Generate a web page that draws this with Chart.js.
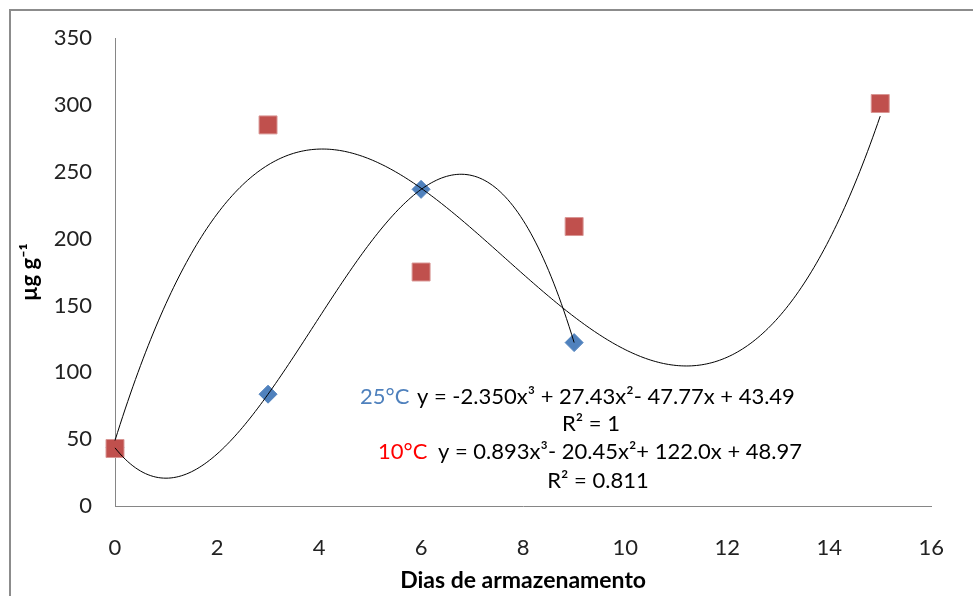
<!DOCTYPE html>
<html>
<head>
<meta charset="utf-8">
<script src="https://cdn.jsdelivr.net/npm/chart.js@4"></script>
<style>
  html, body { margin: 0; padding: 0; background: #fff; }
  #wrap { width: 973px; height: 596px; position: relative; }
</style>
</head>
<body>
<div id="wrap"><canvas id="myChart"></canvas></div>
<script>
// data
const days25 = [0, 3, 6, 9];
const vals25 = [43.5, 83.6, 236.8, 122.2];
const days10 = [0, 3, 6, 9, 15];
const vals10 = [43, 285, 175, 209, 301];
// trendline coefficients (a3, a2, a1, a0) as printed on the chart
const coef25 = [-2.350, 27.43, -47.77, 43.49];
const coef10 = [0.893, -20.45, 122.0, 48.97];
const xTicks = [0, 2, 4, 6, 8, 10, 12, 14, 16];
const yTicks = [0, 50, 100, 150, 200, 250, 300, 350];

function trend(c, x0, x1) {
    const pts = [];
    for (let i = 0; i <= (x1 - x0) * 20; i++) {
        const x = x0 + i / 20;
        pts.push({ x: x, y: c[0] * x * x * x + c[1] * x * x + c[2] * x + c[3] });
    }
    return pts;
}

const toXY = (xs, ys) => xs.map((x, i) => ({ x: x, y: ys[i] }));

const FONT = 'Lato, "Open Sans", sans-serif';

const frame = {
    id: 'frame',
    beforeDraw(chart) {
        const c = chart.ctx;
        c.save();
        c.strokeStyle = '#8c8c8c';
        c.lineWidth = 2;
        c.beginPath();
        c.moveTo(10, 596);
        c.lineTo(10, 10);
        c.lineTo(973, 10);
        c.stroke();
        c.restore();
    }
};

const labels = {
    id: 'labels',
    afterDraw(chart) {
        const c = chart.ctx;
        c.save();
        c.font = '22px ' + FONT;
        c.textBaseline = 'middle';
        c.textAlign = 'left';
        c.fillStyle = '#4f81bd';
        c.fillText('25°C', 360, 397);
        c.fillStyle = '#000';
        c.fillText('y = -2.350x³ + 27.43x²- 47.77x + 43.49', 417, 397);
        c.fillStyle = '#ff0000';
        c.fillText('10°C', 378, 452);
        c.fillStyle = '#000';
        c.fillText('y = 0.893x³- 20.45x²+ 122.0x + 48.97', 438, 452);
        c.textAlign = 'center';
        c.fillText('R² = 1', 591, 424);
        c.fillText('R² = 0.811', 598, 481);
        c.restore();
    }
};

const ctx = document.getElementById('myChart').getContext('2d');
const myChart = new Chart(ctx, {
    type: 'scatter',
    data: {
        datasets: [{
            label: '25°C trend',
            data: trend(coef25, 0, 9),
            showLine: true,
            borderColor: '#000',
            borderWidth: 1,
            pointRadius: 0,
            tension: 0,
            clip: false,
            order: 0
        }, {
            label: '10°C trend',
            data: trend(coef10, 0, 15),
            showLine: true,
            borderColor: '#000',
            borderWidth: 1,
            pointRadius: 0,
            tension: 0,
            clip: false,
            order: 0
        }, {
            label: '10°C',
            data: toXY(days10, vals10),
            pointStyle: 'rect',
            pointRadius: 12.7,
            backgroundColor: '#c0504d',
            borderColor: '#d99694',
            borderWidth: 1,
            clip: false,
            order: 1
        }, {
            label: '25°C',
            data: toXY(days25, vals25),
            pointStyle: 'rectRot',
            pointRadius: 9,
            backgroundColor: '#4f81bd',
            borderColor: '#4f81bd',
            borderWidth: 1,
            clip: false,
            order: 2
        }]
    },
    options: {
        responsive: true,
        maintainAspectRatio: false,
        animation: false,
        layout: { padding: { left: 17, top: 38, right: 38, bottom: 2 } },
        plugins: {
            legend: { display: false },
            tooltip: { enabled: false }
        },
        scales: {
            x: {
                type: 'linear',
                min: 0,
                max: 16,
                afterBuildTicks: s => { s.ticks = xTicks.map(v => ({ value: v })); },
                afterFit: s => { s.height = 88; },
                grid: { display: false, drawTicks: false },
                border: { color: '#868686', width: 1 },
                ticks: { padding: 29, color: '#222', font: { family: FONT, size: 22 } },
                title: {
                    display: true,
                    text: 'Dias de armazenamento',
                    color: '#000',
                    padding: 0,
                    font: { family: FONT, size: 23, weight: 'bold' }
                }
            },
            y: {
                min: 0,
                max: 350,
                afterBuildTicks: s => { s.ticks = yTicks.map(v => ({ value: v })); },
                afterFit: s => { s.width = 98; },
                grid: { display: false, drawTicks: false },
                border: { color: '#868686', width: 1 },
                ticks: { padding: 23, color: '#222', font: { family: FONT, size: 22 } },
                title: {
                    display: true,
                    text: 'µg g⁻¹',
                    color: '#000',
                    padding: 0,
                    font: { family: FONT, size: 22, weight: 'bold' }
                }
            }
        }
    },
    plugins: [frame, labels]
});
</script>
</body>
</html>
